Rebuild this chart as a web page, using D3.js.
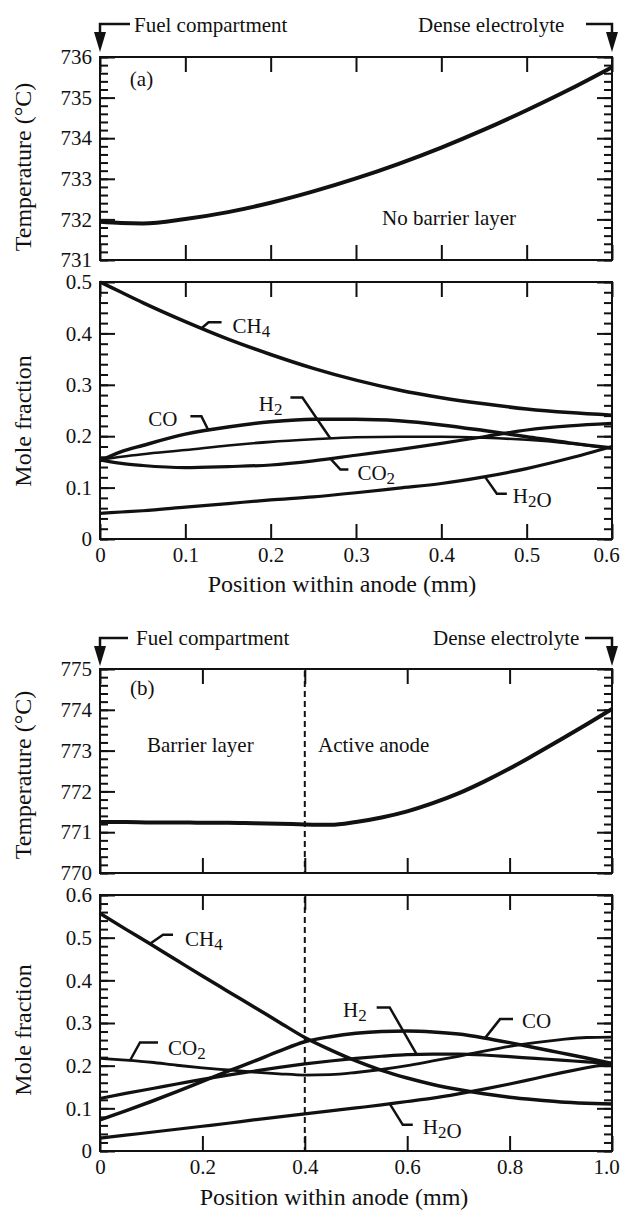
<!DOCTYPE html>
<html>
<head>
<meta charset="utf-8">
<script src="https://cdn.jsdelivr.net/npm/d3@7"></script>
<style>
  body { margin: 0; background: #fff; }
  svg { display: block; }
  text { font-family: "Liberation Serif", "Times New Roman", serif; fill: #111; }
</style>
</head>
<body>
<div id="chart"></div>
<script>
// ---- panel (a): no barrier layer, 0 - 0.6 mm ----
const posA = [0, 0.025, 0.05, 0.1, 0.15, 0.2, 0.25, 0.3, 0.35, 0.4, 0.45, 0.5, 0.55, 0.6];
const tempA = [731.94, 731.91, 731.9, 732.01, 732.18, 732.41, 732.69, 733.01, 733.37, 733.77, 734.21, 734.69, 735.2, 735.75];
const ch4A = [0.5, 0.48, 0.46, 0.423, 0.389, 0.359, 0.332, 0.309, 0.29, 0.275, 0.263, 0.253, 0.246, 0.241];
const coA  = [0.152, 0.17, 0.182, 0.204, 0.218, 0.228, 0.233, 0.233, 0.23, 0.222, 0.211, 0.199, 0.187, 0.177];
const h2A  = [0.154, 0.16, 0.165, 0.173, 0.182, 0.189, 0.194, 0.198, 0.199, 0.199, 0.197, 0.193, 0.186, 0.176];
const co2A = [0.154, 0.147, 0.143, 0.139, 0.141, 0.144, 0.152, 0.163, 0.174, 0.186, 0.199, 0.212, 0.22, 0.225];
const h2oA = [0.05, 0.0525, 0.055, 0.062, 0.069, 0.076, 0.082, 0.09, 0.099, 0.108, 0.121, 0.137, 0.157, 0.18];

// ---- panel (b): barrier layer 0 - 0.4 mm, active anode 0.4 - 1.0 mm ----
const posB = [0, 0.05, 0.1, 0.15, 0.2, 0.25, 0.3, 0.35, 0.4, 0.45, 0.5, 0.55, 0.6, 0.65, 0.7, 0.75, 0.8, 0.85, 0.9, 0.95, 1.0];
const tempB = [771.25, 771.25, 771.24, 771.24, 771.23, 771.23, 771.22, 771.21, 771.19, 771.18, 771.25, 771.36, 771.51, 771.71, 771.95, 772.24, 772.56, 772.91, 773.27, 773.64, 774.02];
const ch4B = [0.557, 0.52, 0.484, 0.447, 0.41, 0.374, 0.338, 0.302, 0.266, 0.237, 0.211, 0.189, 0.171, 0.156, 0.144, 0.134, 0.126, 0.12, 0.115, 0.112, 0.11];
const coB  = [0.073, 0.094, 0.116, 0.139, 0.163, 0.187, 0.21, 0.234, 0.256, 0.268, 0.276, 0.28, 0.281, 0.279, 0.274, 0.265, 0.254, 0.242, 0.23, 0.218, 0.205];
const h2B  = [0.123, 0.135, 0.146, 0.157, 0.168, 0.178, 0.187, 0.196, 0.204, 0.211, 0.217, 0.222, 0.226, 0.227, 0.227, 0.225, 0.221, 0.217, 0.213, 0.209, 0.205];
const co2B = [0.217, 0.213, 0.208, 0.201, 0.195, 0.19, 0.185, 0.181, 0.178, 0.179, 0.184, 0.191, 0.2, 0.211, 0.222, 0.234, 0.245, 0.254, 0.261, 0.266, 0.267];
const h2oB = [0.03, 0.037, 0.044, 0.051, 0.058, 0.065, 0.073, 0.08, 0.087, 0.094, 0.101, 0.108, 0.116, 0.124, 0.134, 0.145, 0.157, 0.17, 0.183, 0.195, 0.206];
const barrierEdge = 0.4;

// ---- ticks ----
const xTicksA = [0, 0.1, 0.2, 0.3, 0.4, 0.5, 0.6];
const xLabelsA = ["0", "0.1", "0.2", "0.3", "0.4", "0.5", "0.6"];
const xTicksB = [0, 0.2, 0.4, 0.6, 0.8, 1.0];
const xLabelsB = ["0", "0.2", "0.4", "0.6", "0.8", "1.0"];
const tTicksA = [731, 732, 733, 734, 735, 736];
const tLabelsA = ["731", "732", "733", "734", "735", "736"];
const tTicksB = [770, 771, 772, 773, 774, 775];
const tLabelsB = ["770", "771", "772", "773", "774", "775"];
const mTicksA = [0, 0.1, 0.2, 0.3, 0.4, 0.5];
const mLabelsA = ["0", "0.1", "0.2", "0.3", "0.4", "0.5"];
const mTicksB = [0, 0.1, 0.2, 0.3, 0.4, 0.5, 0.6];
const mLabelsB = ["0", "0.1", "0.2", "0.3", "0.4", "0.5", "0.6"];

const W = 624, H = 1210;
const left = 100, right = 612;
const ink = "#111";

const svg = d3.select("#chart").append("svg")
  .attr("width", W).attr("height", H)
  .attr("viewBox", `0 0 ${W} ${H}`);

// scales
const xA = d3.scaleLinear().domain([0, 0.6]).range([left, right]);
const xB = d3.scaleLinear().domain([0, 1.0]).range([left, right]);
const yTA = d3.scaleLinear().domain([731, 736]).range([260, 57]);
const yMA = d3.scaleLinear().domain([0, 0.5]).range([539, 282]);
const yTB = d3.scaleLinear().domain([770, 775]).range([873, 669]);
const yMB = d3.scaleLinear().domain([0, 0.6]).range([1151, 895]);

const minor = (lo, hi, step) => d3.range(Math.round((hi - lo) / step) + 1).map(i => +(lo + i * step).toFixed(4));

function styleAxis(g) {
  g.attr("font-family", null).attr("font-size", null);
  g.select(".domain").remove();
  g.selectAll("line").attr("stroke", ink).attr("stroke-width", 2);
  g.selectAll("text").attr("font-size", 21).attr("fill", ink);
}

function drawBox(x, y, yTicks, yLabels, yStep, xTicks, xLabels, showX) {
  const [x0, x1] = x.range();
  const [yb, yt] = y.range();
  const [d0, d1] = y.domain();
  const yMinor = minor(d0, d1, yStep);
  const g = svg.append("g");
  const yFmt = d => yLabels[yTicks.indexOf(d)];
  const xFmt = d => xLabels[xTicks.indexOf(d)];

  g.append("g").attr("transform", `translate(${x0},0)`)
    .call(d3.axisLeft(y).tickValues(yMinor).tickSize(-8).tickFormat("")).call(styleAxis);
  g.append("g").attr("transform", `translate(${x0},0)`)
    .call(d3.axisLeft(y).tickValues(yTicks).tickSize(-15).tickPadding(8).tickFormat(yFmt)).call(styleAxis);
  g.append("g").attr("transform", `translate(${x1},0)`)
    .call(d3.axisRight(y).tickValues(yMinor).tickSize(-8).tickFormat("")).call(styleAxis);
  g.append("g").attr("transform", `translate(${x1},0)`)
    .call(d3.axisRight(y).tickValues(yTicks).tickSize(-15).tickFormat("")).call(styleAxis);
  g.append("g").attr("transform", `translate(0,${yt})`)
    .call(d3.axisTop(x).tickValues(xTicks).tickSize(-15).tickFormat("")).call(styleAxis);
  const bottom = g.append("g").attr("transform", `translate(0,${yb})`)
    .call(d3.axisBottom(x).tickValues(xTicks).tickSize(-15).tickPadding(8)
      .tickFormat(showX ? xFmt : "")).call(styleAxis);
  // last label sits at the page edge: pull it in a little
  bottom.selectAll(".tick text").filter(d => d === xTicks[xTicks.length - 1]).attr("dx", -6);

  g.append("rect")
    .attr("x", x0).attr("y", yt).attr("width", x1 - x0).attr("height", yb - yt)
    .attr("fill", "none").attr("stroke", ink).attr("stroke-width", 2);
  return g;
}

function drawSeries(x, y, xs, ys, width) {
  const line = d3.line()
    .x((d, i) => x(xs[i]))
    .y(d => y(d))
    .curve(d3.curveMonotoneX);
  svg.append("path")
    .datum(ys)
    .attr("fill", "none")
    .attr("stroke", ink)
    .attr("stroke-width", width)
    .attr("stroke-linejoin", "round")
    .attr("d", line);
}

function addFormula(sel, label) {
  label.split(/(\d)/).filter(s => s.length).forEach(part => {
    if (/\d/.test(part)) {
      sel.append("tspan").attr("font-size", 17).attr("dy", 4).text(part);
      sel.append("tspan").attr("dy", -4).text("");
    } else {
      sel.append("tspan").text(part);
    }
  });
}

// species label with a bent leader: tip sits on the curve at xPos
function speciesLabel(x, y, xs, ys, xPos, name, elbow, end, textAt, anchor) {
  const yPos = d3.scaleLinear().domain(xs).range(ys)(xPos);
  const px = x(xPos), py = y(yPos);
  svg.append("path")
    .attr("d", d3.line()([[px, py], [px + elbow[0], py + elbow[1]], [px + end[0], py + end[1]]]))
    .attr("fill", "none").attr("stroke", ink).attr("stroke-width", 2.5);
  const t = svg.append("text")
    .attr("x", px + textAt[0]).attr("y", py + textAt[1])
    .attr("font-size", 21).attr("text-anchor", anchor);
  addFormula(t, name);
}

function note(x, y, xv, yv, txt) {
  svg.append("text").attr("x", x(xv)).attr("y", y(yv)).attr("font-size", 21).text(txt);
}

function yTitle(cy, txt) {
  svg.append("text")
    .attr("transform", `translate(31,${cy}) rotate(-90)`)
    .attr("text-anchor", "middle").attr("font-size", 24).text(txt);
}

function xTitle(cx, by, txt) {
  svg.append("text").attr("x", cx).attr("y", by)
    .attr("text-anchor", "middle").attr("font-size", 24).text(txt);
}

function sideArrows(x, lineY, textY, fuelX, denseX, leftEnd, rightStart) {
  const xl = x.range()[0], xr = x.range()[1];
  const head = lineY + 8, tip = lineY + 28;
  [[leftEnd, xl], [rightStart, xr]].forEach(([from, at]) => {
    svg.append("path")
      .attr("d", d3.line()([[from, lineY], [at, lineY], [at, head]]))
      .attr("fill", "none").attr("stroke", ink).attr("stroke-width", 2.5);
    svg.append("path")
      .attr("d", d3.line()([[at - 6, head], [at + 6, head], [at, tip]]) + "Z")
      .attr("fill", ink);
  });
  svg.append("text").attr("x", fuelX).attr("y", textY).attr("font-size", 21).text("Fuel compartment");
  svg.append("text").attr("x", denseX).attr("y", textY).attr("font-size", 21).text("Dense electrolyte");
}

// ================= panel (a) =================
sideArrows(xA, 24, 32, 134, 418, 130, 586);
drawBox(xA, yTA, tTicksA, tLabelsA, 0.2, xTicksA, xLabelsA, false);
drawBox(xA, yMA, mTicksA, mLabelsA, 0.02, xTicksA, xLabelsA, true);

drawSeries(xA, yTA, posA, tempA, 4);
drawSeries(xA, yMA, posA, ch4A, 3.5);
drawSeries(xA, yMA, posA, coA, 3.5);
drawSeries(xA, yMA, posA, h2A, 2.6);
drawSeries(xA, yMA, posA, co2A, 3.2);
drawSeries(xA, yMA, posA, h2oA, 3.2);

note(xA, yTA, 0.035, 735.29, "(a)");
note(xA, yTA, 0.3305, 731.86, "No barrier layer");

speciesLabel(xA, yMA, posA, ch4A, 0.119, "CH4", [7, -6], [20, -6], [31, 5], "start");
speciesLabel(xA, yMA, posA, coA, 0.127, "CO", [-7, -14], [-18, -14], [-31, -4], "end");
speciesLabel(xA, yMA, posA, h2A, 0.27, "H2", [-28, -41], [-40, -41], [-48, -27], "end");
speciesLabel(xA, yMA, posA, co2A, 0.27, "CO2", [10, 11], [18, 11], [27, 21], "start");
speciesLabel(xA, yMA, posA, h2oA, 0.451, "H2O", [12, 17], [22, 17], [28, 26], "start");

yTitle(167, "Temperature (\u00B0C)");
yTitle(421, "Mole fraction");
xTitle(342, 592, "Position within anode (mm)");

// ================= panel (b) =================
sideArrows(xB, 638, 645, 136, 433, 128, 585);
drawBox(xB, yTB, tTicksB, tLabelsB, 0.2, xTicksB, xLabelsB, false);
drawBox(xB, yMB, mTicksB, mLabelsB, 0.02, xTicksB, xLabelsB, true);

// barrier / active anode boundary
[yTB, yMB].forEach(y => {
  svg.append("line")
    .attr("x1", xB(barrierEdge)).attr("x2", xB(barrierEdge))
    .attr("y1", y.range()[1] + 2).attr("y2", y.range()[0] - 1)
    .attr("stroke", ink).attr("stroke-width", 2).attr("stroke-dasharray", "6,4");
});

drawSeries(xB, yTB, posB, tempB, 4);
drawSeries(xB, yMB, posB, ch4B, 3.5);
drawSeries(xB, yMB, posB, coB, 3.5);
drawSeries(xB, yMB, posB, h2B, 3.2);
drawSeries(xB, yMB, posB, co2B, 2.8);
drawSeries(xB, yMB, posB, h2oB, 3.2);

note(xB, yTB, 0.0586, 774.36, "(b)");
note(xB, yTB, 0.0918, 772.97, "Barrier layer");
note(xB, yTB, 0.4258, 772.97, "Active anode");

speciesLabel(xB, yMB, posB, ch4B, 0.0977, "CH4", [13, -9], [23, -9], [35, 2], "start");
speciesLabel(xB, yMB, posB, co2B, 0.0586, "CO2", [10, -18], [28, -18], [38, -5], "start");
speciesLabel(xB, yMB, posB, h2B, 0.6185, "H2", [-27, -47], [-40, -47], [-50, -37], "end");
speciesLabel(xB, yMB, posB, coB, 0.752, "CO", [15, -19], [28, -19], [37, -10], "start");
speciesLabel(xB, yMB, posB, h2oB, 0.566, "H2O", [13, 21], [23, 21], [33, 30], "start");

yTitle(775, "Temperature (\u00B0C)");
yTitle(1030, "Mole fraction");
xTitle(334, 1205, "Position within anode (mm)");
</script>
</body>
</html>
